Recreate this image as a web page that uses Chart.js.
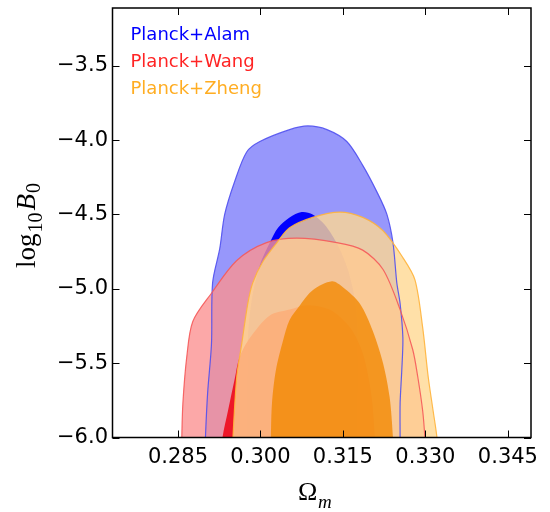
<!DOCTYPE html>
<html>
<head>
<meta charset="utf-8">
<script src="https://cdn.jsdelivr.net/npm/chart.js@4.4.0/dist/chart.umd.min.js"></script>
<style>
  body { margin: 0; background: #fff; }
  canvas { display: block; }
</style>
</head>
<body>
<canvas id="contours" width="550" height="512"></canvas>
<script>
// Omega_m / log10 B0 contour outlines (bottom-left, around the top, to bottom-right)
const omAlamOuter = [0.2900, 0.2900, 0.2904, 0.2911, 0.2913, 0.2926, 0.2935, 0.2953, 0.2975, 0.2999, 0.3053, 0.3086, 0.3121, 0.3157, 0.3186, 0.3212, 0.3230, 0.3241, 0.3248, 0.3254, 0.3259, 0.3257, 0.3254, 0.3254, 0.3254];
const bAlamOuter  = [-6.06, -6.0, -5.70, -5.37, -4.96, -4.73, -4.50, -4.28, -4.08, -4.01, -3.93, -3.905, -3.93, -4.01, -4.17, -4.35, -4.50, -4.69, -4.96, -5.10, -5.33, -5.55, -5.77, -6.0, -6.06];

const omAlamInner = [0.2975, 0.2975, 0.2977, 0.2984, 0.2999, 0.3017, 0.3032, 0.3053, 0.3075, 0.3095, 0.3117, 0.3141, 0.3159, 0.3172, 0.3177, 0.3177, 0.3177];
const bAlamInner  = [-6.06, -6.0, -5.35, -5.08, -4.84, -4.69, -4.59, -4.52, -4.484, -4.50, -4.57, -4.71, -4.87, -5.08, -5.35, -6.0, -6.06];

const omWangOuter = [0.2857, 0.2857, 0.2859, 0.2866, 0.2877, 0.2911, 0.2957, 0.3011, 0.3066, 0.3139, 0.3186, 0.3223, 0.3254, 0.3277, 0.3286, 0.3295, 0.3299, 0.3299];
const bWangOuter  = [-6.06, -6.0, -5.77, -5.46, -5.22, -5.03, -4.81, -4.69, -4.66, -4.69, -4.74, -4.87, -5.14, -5.41, -5.59, -5.82, -6.0, -6.06];

const omWangInner = [0.2931, 0.2931, 0.2941, 0.2953, 0.2962, 0.2981, 0.3017, 0.3053, 0.3084, 0.3126, 0.3163, 0.3184, 0.3194, 0.3203, 0.3208, 0.3208];
const bWangInner  = [-6.06, -6.0, -5.82, -5.61, -5.46, -5.33, -5.18, -5.14, -5.11, -5.14, -5.26, -5.41, -5.55, -5.75, -6.0, -6.06];

const omZhengOuter = [0.2950, 0.2950, 0.2957, 0.2966, 0.2977, 0.2986, 0.3004, 0.3030, 0.3053, 0.3095, 0.3144, 0.3186, 0.3223, 0.3259, 0.3281, 0.3295, 0.3305, 0.3314, 0.3321, 0.3321];
const bZhengOuter  = [-6.06, -6.0, -5.59, -5.37, -5.10, -4.96, -4.82, -4.69, -4.59, -4.52, -4.484, -4.52, -4.61, -4.79, -4.94, -5.26, -5.59, -5.82, -6.0, -6.06];

const omZhengInner = [0.3019, 0.3019, 0.3021, 0.3028, 0.3041, 0.3053, 0.3072, 0.3095, 0.3130, 0.3150, 0.3181, 0.3204, 0.3223, 0.3235, 0.3241, 0.3241];
const bZhengInner  = [-6.06, -6.0, -5.77, -5.55, -5.35, -5.21, -5.11, -5.01, -4.95, -4.99, -5.10, -5.28, -5.50, -5.73, -6.0, -6.06];

const xTickValues = [0.285, 0.300, 0.315, 0.330, 0.345];
const yTickValues = [-6.0, -5.5, -5.0, -4.5, -4.0, -3.5];
const legendLabels = ['Planck+Alam', 'Planck+Wang', 'Planck+Zheng'];
const legendColors = ['#0000ff', '#ff2424', '#ffad22'];

function toPoints(xs, ys) {
  return xs.map((v, i) => ({ x: v, y: ys[i] }));
}

function region(xs, ys, fillColor) {
  return {
    data: toPoints(xs, ys),
    showLine: true,
    fill: 'shape',
    backgroundColor: fillColor,
    borderWidth: 0,
    borderColor: 'rgba(0,0,0,0)',
    pointRadius: 0,
    tension: 0.3
  };
}

function outline(xs, ys, lineColor) {
  return {
    data: toPoints(xs, ys),
    showLine: true,
    fill: false,
    borderColor: lineColor,
    borderWidth: 1.2,
    pointRadius: 0,
    tension: 0.3
  };
}

// bottom layer first
const layers = [
  region(omAlamOuter, bAlamOuter, 'rgba(125,125,250,0.8)'),
  region(omAlamInner, bAlamInner, 'rgba(0,0,255,1)'),
  region(omWangOuter, bWangOuter, 'rgba(251,146,146,0.8)'),
  region(omWangInner, bWangInner, 'rgba(238,17,34,0.95)'),
  region(omZhengOuter, bZhengOuter, 'rgba(255,216,146,0.8)'),
  region(omZhengInner, bZhengInner, 'rgba(242,136,0,0.78)'),
  outline(omAlamOuter, bAlamOuter, 'rgba(80,80,240,0.9)'),
  outline(omWangOuter, bWangOuter, 'rgba(245,90,90,0.9)'),
  outline(omZhengOuter, bZhengOuter, 'rgba(255,180,60,0.9)')
];
// chart.js draws lower order on top
layers.forEach((d, i) => { d.order = layers.length - i; });

const frame = {
  id: 'frame',
  afterDraw(chart) {
    const { ctx, chartArea: a, scales: { x, y } } = chart;
    ctx.save();
    ctx.strokeStyle = '#000';
    ctx.lineWidth = 1;
    ctx.beginPath();
    xTickValues.forEach(v => {
      const px = Math.round(x.getPixelForValue(v)) + 0.5;
      ctx.moveTo(px, a.bottom); ctx.lineTo(px, a.bottom - 7);
      ctx.moveTo(px, a.top); ctx.lineTo(px, a.top + 7);
    });
    yTickValues.forEach(v => {
      const py = Math.round(y.getPixelForValue(v)) + 0.5;
      ctx.moveTo(a.left, py); ctx.lineTo(a.left + 7, py);
      ctx.moveTo(a.right, py); ctx.lineTo(a.right - 7, py);
    });
    ctx.stroke();
    ctx.lineWidth = 1.5;
    ctx.strokeRect(a.left, a.top, a.right - a.left, a.bottom - a.top);

    // legend
    ctx.font = '18px "DejaVu Sans"';
    ctx.textBaseline = 'alphabetic';
    ctx.textAlign = 'left';
    legendLabels.forEach((t, i) => {
      ctx.fillStyle = legendColors[i];
      ctx.fillText(t, 130.5, 39.5 + i * 27.4);
    });

    // x title: Omega_m
    ctx.fillStyle = '#000';
    ctx.font = '26px "Liberation Serif"';
    ctx.fillText('Ω', 298, 500);
    ctx.font = 'italic 19px "Liberation Serif"';
    ctx.fillText('m', 318, 508);

    // y title: log10 B0
    ctx.translate(35, 268);
    ctx.rotate(-Math.PI / 2);
    let pos = 0;
    ctx.font = '27px "Liberation Serif"';
    ctx.fillText('log', pos, 0);
    pos += ctx.measureText('log').width + 1;
    ctx.font = '20px "Liberation Serif"';
    ctx.fillText('10', pos, 7);
    pos += ctx.measureText('10').width + 2;
    ctx.font = 'italic 27px "Liberation Serif"';
    ctx.fillText('B', pos, 0);
    pos += ctx.measureText('B').width + 1;
    ctx.font = '20px "Liberation Serif"';
    ctx.fillText('0', pos, 5);
    ctx.restore();
  }
};

function noPad(s) {
  s.paddingTop = 0;
  s.paddingBottom = 0;
  s.paddingLeft = 0;
  s.paddingRight = 0;
}

new Chart(document.getElementById('contours').getContext('2d'), {
  type: 'scatter',
  data: { datasets: layers },
  options: {
    responsive: false,
    animation: false,
    layout: { padding: { left: 0, right: 19, top: 8, bottom: 0 } },
    plugins: { legend: { display: false }, tooltip: { enabled: false } },
    scales: {
      x: {
        type: 'linear',
        min: 0.2731,
        max: 0.3492,
        afterBuildTicks: s => { s.ticks = xTickValues.map(v => ({ value: v })); },
        afterFit: s => { s.height = 74.5; noPad(s); },
        grid: { display: false, drawTicks: false },
        border: { display: false },
        ticks: {
          autoSkip: false,
          maxRotation: 0,
          padding: 7,
          color: '#000',
          font: { family: 'DejaVu Sans', size: 21 },
          callback: v => v.toFixed(3)
        }
      },
      y: {
        type: 'linear',
        min: -6.0,
        max: -3.112,
        afterBuildTicks: s => { s.ticks = yTickValues.map(v => ({ value: v })); },
        afterFit: s => { s.width = 112.5; noPad(s); },
        grid: { display: false, drawTicks: false },
        border: { display: false },
        ticks: {
          autoSkip: false,
          padding: 4.5,
          color: '#000',
          font: { family: 'DejaVu Sans', size: 21 },
          callback: v => (v < 0 ? '\u2212' : '') + Math.abs(v).toFixed(1)
        }
      }
    }
  },
  plugins: [frame]
});
</script>
</body>
</html>
